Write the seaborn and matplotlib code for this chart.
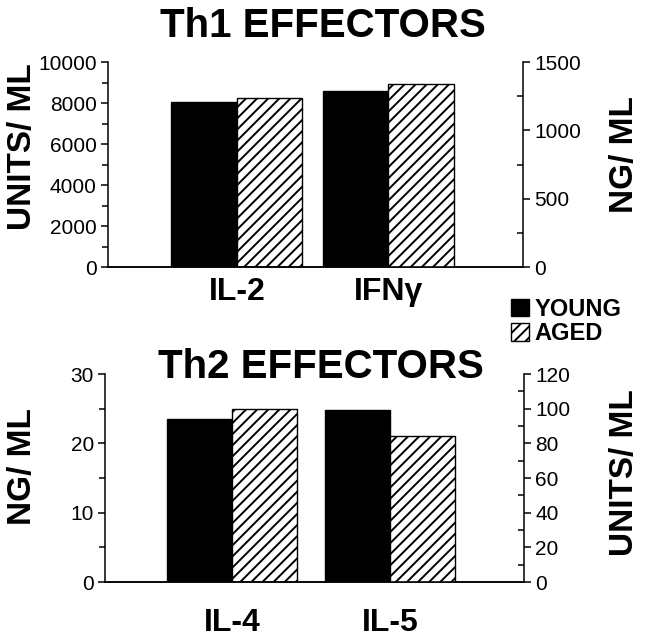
import numpy as np
import pandas as pd
import matplotlib
matplotlib.use('Agg')
import matplotlib.pyplot as plt
import seaborn as sns

groups = ['YOUNG', 'AGED']
th1_cytokines = ['IL-2', 'IFNγ']
il2_units = [8050, 8250]     # left axis, UNITS/ ML
ifng_ng = [1285, 1340]       # right axis, NG/ ML
th2_cytokines = ['IL-4', 'IL-5']
il4_ng = [23.5, 25.0]        # left axis, NG/ ML
il5_units = [99, 84]         # right axis, UNITS/ ML

sns.set_style('ticks')
plt.rcParams['font.family'] = ['Liberation Sans', 'DejaVu Sans']
plt.rcParams['hatch.linewidth'] = 1.4
plt.rcParams['axes.linewidth'] = 1.1
for key in ['text.color', 'axes.labelcolor', 'xtick.color', 'ytick.color', 'axes.edgecolor']:
    plt.rcParams[key] = 'black'

pal = {'YOUNG': 'black', 'AGED': 'white'}


def frame(cyto, vals):
    return pd.DataFrame({'cytokine': [cyto] * len(groups), 'group': groups, 'value': vals})


fig = plt.figure(figsize=(6.69, 6.37), dpi=100)
ax1 = fig.add_axes([0.1614, 0.5808, 0.6203, 0.3218])
ax2 = ax1.twinx()
ax3 = fig.add_axes([0.157, 0.0863, 0.6263, 0.3265])
ax4 = ax3.twinx()

panels = [
    (ax1, frame('IL-2', il2_units), th1_cytokines, 0.865),
    (ax2, frame('IFNγ', ifng_ng), th1_cytokines, 0.865),
    (ax3, frame('IL-4', il4_ng), th2_cytokines, 0.82),
    (ax4, frame('IL-5', il5_units), th2_cytokines, 0.82),
]
for ax, df, order, w in panels:
    sns.barplot(data=df, x='cytokine', y='value', hue='group', order=order,
                hue_order=groups, palette=pal, edgecolor='black', linewidth=1,
                width=w, legend=False, ax=ax)
    for bar in ax.containers[1]:
        bar.set_hatch('///')
    ax.set_xlabel('')
    ax.set_ylabel('')

ax1.set_xlim(-0.851, 1.888)
ax2.set_xlim(-0.851, 1.888)
ax3.set_xlim(-0.804, 1.848)
ax4.set_xlim(-0.804, 1.848)

ax1.set_ylim(0, 10000)
ax1.set_yticks(np.arange(0, 10001, 2000))
ax1.set_yticks(np.arange(0, 10001, 1000), minor=True)
ax2.set_ylim(0, 1500)
ax2.set_yticks([0, 500, 1000, 1500])
ax2.set_yticks(np.arange(0, 1501, 250), minor=True)
ax3.set_ylim(0, 30)
ax3.set_yticks([0, 10, 20, 30])
ax3.set_yticks(np.arange(0, 31, 5), minor=True)
ax4.set_ylim(0, 120)
ax4.set_yticks(np.arange(0, 121, 20))
ax4.set_yticks(np.arange(0, 121, 10), minor=True)

for left, right, pad in [(ax1, ax2, 7), (ax3, ax4, 19)]:
    for a in (left, right):
        a.spines['top'].set_visible(False)
    left.spines['right'].set_visible(False)
    right.spines['left'].set_visible(False)
    left.tick_params(axis='y', which='major', direction='out', length=5, width=1.1,
                     labelsize=15, pad=3)
    left.tick_params(axis='y', which='minor', direction='out', length=4, width=1.1)
    right.tick_params(axis='y', which='major', direction='out', length=5, width=1.1,
                      labelsize=15, pad=3)
    right.tick_params(axis='y', which='minor', direction='in', length=4, width=1.1)
    left.tick_params(axis='x', length=0, labelsize=23, pad=pad)
    right.tick_params(axis='x', length=0, labelbottom=False)
    for lab in left.get_xticklabels():
        lab.set_fontweight('bold')

title_kw = dict(ha='center', va='center', fontsize=29, fontweight='bold')
fig.text(323 / 669, 1 - 26 / 637, 'Th1 EFFECTORS', **title_kw)
fig.text(321 / 669, 1 - 367 / 637, 'Th2 EFFECTORS', **title_kw)

ylab_kw = dict(ha='center', va='center', rotation=90, fontsize=24, fontweight='bold')
fig.text(23 / 669, 1 - 147 / 637, 'UNITS/ ML', **ylab_kw)
fig.text(624 / 669, 1 - 155 / 637, 'NG/ ML', **ylab_kw)
fig.text(23 / 669, 1 - 467 / 637, 'NG/ ML', **ylab_kw)
fig.text(624 / 669, 1 - 473 / 637, 'UNITS/ ML', **ylab_kw)

fig.legend([ax1.containers[0], ax1.containers[1]], groups, loc='upper left',
           bbox_to_anchor=(511 / 669, 1 - 298 / 637), frameon=False,
           prop={'weight': 'bold', 'size': 17}, handlelength=0.75, handleheight=0.75,
           handletextpad=0.25, labelspacing=0.05, borderpad=0, borderaxespad=0)

fig.savefig('out.png', dpi=100)
